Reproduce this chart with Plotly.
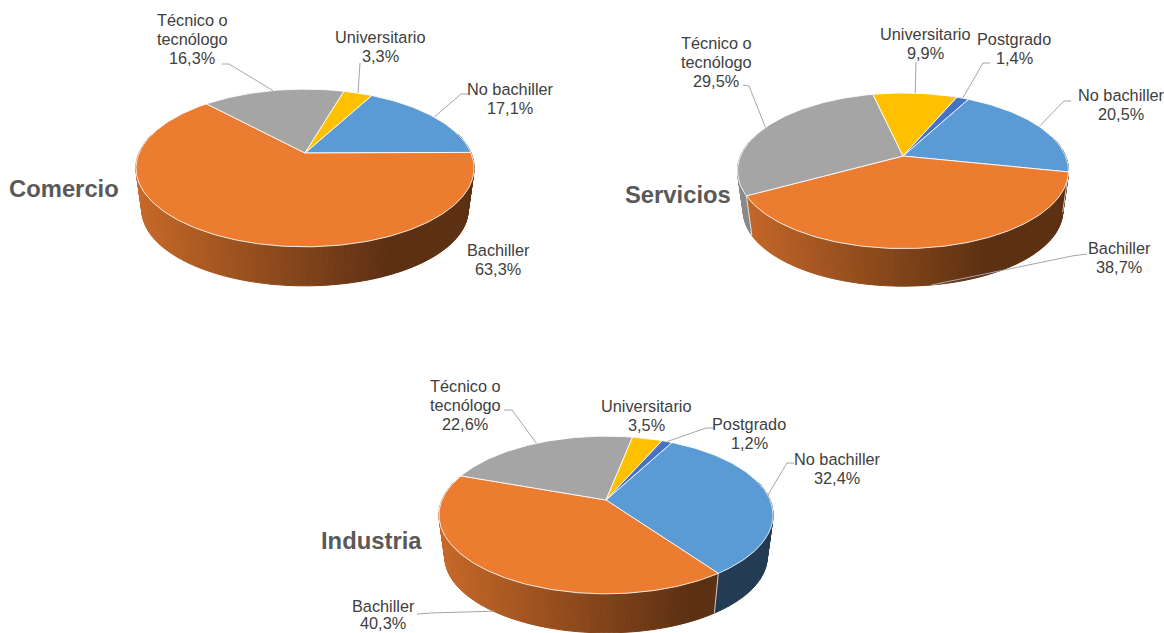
import math
import plotly.graph_objects as go

categories = ["No bachiller", "Bachiller", "Técnico o tecnólogo", "Universitario", "Postgrado"]
comercio_values = [17.1, 63.3, 16.3, 3.3, 0.0]
servicios_values = [20.5, 38.7, 29.5, 9.9, 1.4]
industria_values = [32.4, 40.3, 22.6, 3.5, 1.2]
colors = ["#5B9BD5", "#EC7C30", "#A5A5A5", "#FFC000", "#4472C4"]

# label line pieces for each category
label_lines = {"Técnico o tecnólogo": ["Técnico o", "tecnólogo"]}

START_ANGLE = 28.0
PERSPECTIVE = 0.19
BOTTOM_SCALE = 0.965

panels = [
    dict(name="Comercio", values=comercio_values, cx=305, cy=153, A=166, B=76, depth=42.3,
         title_xy=(64, 188),
         labels={0: (510, 89), 1: (498, 250), 2: (192, 20), 3: (380, 37)},
         leaders={0: [(469, 94), (461, 94)], 2: [(222, 64), (229, 64)], 3: [(360, 63)]}),
    dict(name="Servicios", values=servicios_values, cx=903, cy=156, A=162.5, B=75, depth=40.8,
         title_xy=(678, 194),
         labels={0: (1121, 95), 1: (1119, 248), 2: (716, 43), 3: (925, 34), 4: (1014, 39)},
         leaders={0: [(1071, 101), (1064, 101)], 1: [(1087, 254), (1072, 256)],
                  2: [(743, 85), (749, 86)], 3: [(916, 62)], 4: [(990, 63), (983, 63)]}),
    dict(name="Industria", values=industria_values, cx=606, cy=500, A=164, B=76, depth=42.3,
         title_xy=(371, 540),
         labels={0: (837, 459), 1: (383, 606), 2: (465, 386), 3: (646, 406), 4: (749, 424)},
         gaps={1: 16.5},
         leaders={0: [(794, 463), (787, 463)], 1: [(417, 614), (431, 613)],
                  2: [(504, 410), (512, 410)], 4: [(713, 428), (706, 428)]}),
]


def project(p, theta, bottom=False):
    """Perspective projection of a rim point, theta clockwise from the far side."""
    r = math.radians(theta)
    u, v = math.sin(r), math.cos(r)
    w = 1 + PERSPECTIVE * v
    s = BOTTOM_SCALE if bottom else 1.0
    d = p["depth"] if bottom else 0.0
    return p["cx"] + s * p["A"] * u / w, p["cy"] + d - s * p["B"] * v / w


def shade(hex_color, frac):
    if frac >= 0.75:
        k = 0.39
    else:
        k = 0.84 + (0.39 - 0.84) * frac / 0.75
    rgb = [int(hex_color[i:i + 2], 16) for i in (1, 3, 5)]
    return "rgb(%d,%d,%d)" % tuple(round(c * k) for c in rgb)


def arc(a0, a1, step):
    n = max(1, int(math.ceil((a1 - a0) / step)))
    return [a0 + (a1 - a0) * i / n for i in range(n + 1)]


def slices(values):
    total = sum(values)
    a = START_ANGLE
    out = []
    for i, val in enumerate(values):
        sweep = 360.0 * val / total
        out.append((i, a, a + sweep))
        a += sweep
    return out


fig = go.Figure()
annotations = []

for p in panels:
    parts = [s for s in slices(p["values"]) if s[2] > s[1]]
    left = p["cx"] - p["A"] / math.sqrt(1 - PERSPECTIVE ** 2)
    width = 2 * p["A"] / math.sqrt(1 - PERSPECTIVE ** 2)

    # side wall
    for i, a0, a1 in parts:
        steps = arc(a0, a1, 1.5)
        for b0, b1 in zip(steps[:-1], steps[1:]):
            mid = (b0 + b1) / 2
            if math.cos(math.radians(mid)) > 0.25:
                continue
            t0, t1 = project(p, b0), project(p, b1)
            q0, q1 = project(p, b0, True), project(p, b1, True)
            col = shade(colors[i], (project(p, mid)[0] - left) / width)
            fig.add_trace(go.Scatter(
                x=[t0[0], t1[0], q1[0], q0[0], t0[0]],
                y=[t0[1], t1[1], q1[1], q0[1], t0[1]],
                mode="lines", fill="toself", fillcolor=col,
                line=dict(color=col, width=1), hoverinfo="skip", showlegend=False))
    # slice boundaries down the wall
    for i, a0, a1 in parts:
        if math.cos(math.radians(a0)) < -0.05:
            t, q = project(p, a0), project(p, a0, True)
            fig.add_trace(go.Scatter(
                x=[t[0], q[0]], y=[t[1], q[1]], mode="lines",
                line=dict(color="rgba(255,255,255,0.75)", width=1),
                hoverinfo="skip", showlegend=False))

    # top face
    for i, a0, a1 in parts:
        rim = [project(p, a) for a in arc(a0, a1, 1.0)]
        xs = [p["cx"]] + [r[0] for r in rim] + [p["cx"]]
        ys = [p["cy"]] + [r[1] for r in rim] + [p["cy"]]
        fig.add_trace(go.Scatter(
            x=xs, y=ys, mode="lines", fill="toself", fillcolor=colors[i],
            line=dict(color="rgba(255,255,255,0.85)", width=1),
            name=categories[i], text="%s %s: %.1f%%" % (p["name"], categories[i], p["values"][i]),
            hoverinfo="text", showlegend=False))

    # leaders
    angle = {i: (a0 + a1) / 2 for i, a0, a1 in parts}
    for i, pts in p["leaders"].items():
        mid = angle[i]
        end = project(p, mid, math.cos(math.radians(mid)) < 0)
        fig.add_trace(go.Scatter(
            x=[q[0] for q in pts] + [end[0]], y=[q[1] for q in pts] + [end[1]],
            mode="lines", line=dict(color="#A6A6A6", width=1),
            hoverinfo="skip", showlegend=False))

    # labels, one annotation per line for the tight line spacing
    for i, (lx, ly) in p["labels"].items():
        lines = label_lines.get(categories[i], [categories[i]]) + [("%.1f%%" % p["values"][i]).replace(".", ",")]
        gap = p.get("gaps", {}).get(i, 19)
        for n, line in enumerate(lines):
            annotations.append(dict(
                x=lx, y=ly + n * gap, xref="x", yref="y", text=line, showarrow=False,
                xanchor="center", yanchor="middle", borderpad=0,
                font=dict(family="Liberation Sans", size=16.3, color="#404040")))
    annotations.append(dict(
        x=p["title_xy"][0], y=p["title_xy"][1], xref="x", yref="y", text="<b>%s</b>" % p["name"],
        showarrow=False, xanchor="center", yanchor="middle",
        font=dict(family="Liberation Sans", size=23.8, color="#595959")))

fig.update_layout(
    width=1164, height=633, margin=dict(l=0, r=0, t=0, b=0),
    paper_bgcolor="white", plot_bgcolor="white", showlegend=False,
    xaxis=dict(range=[0, 1164], visible=False, fixedrange=True),
    yaxis=dict(range=[633, 0], visible=False, fixedrange=True),
    annotations=annotations,
)
fig.write_html("out.html", config={"displayModeBar": False},
               post_script="document.body.style.margin='0';document.documentElement.style.overflow='hidden';")
